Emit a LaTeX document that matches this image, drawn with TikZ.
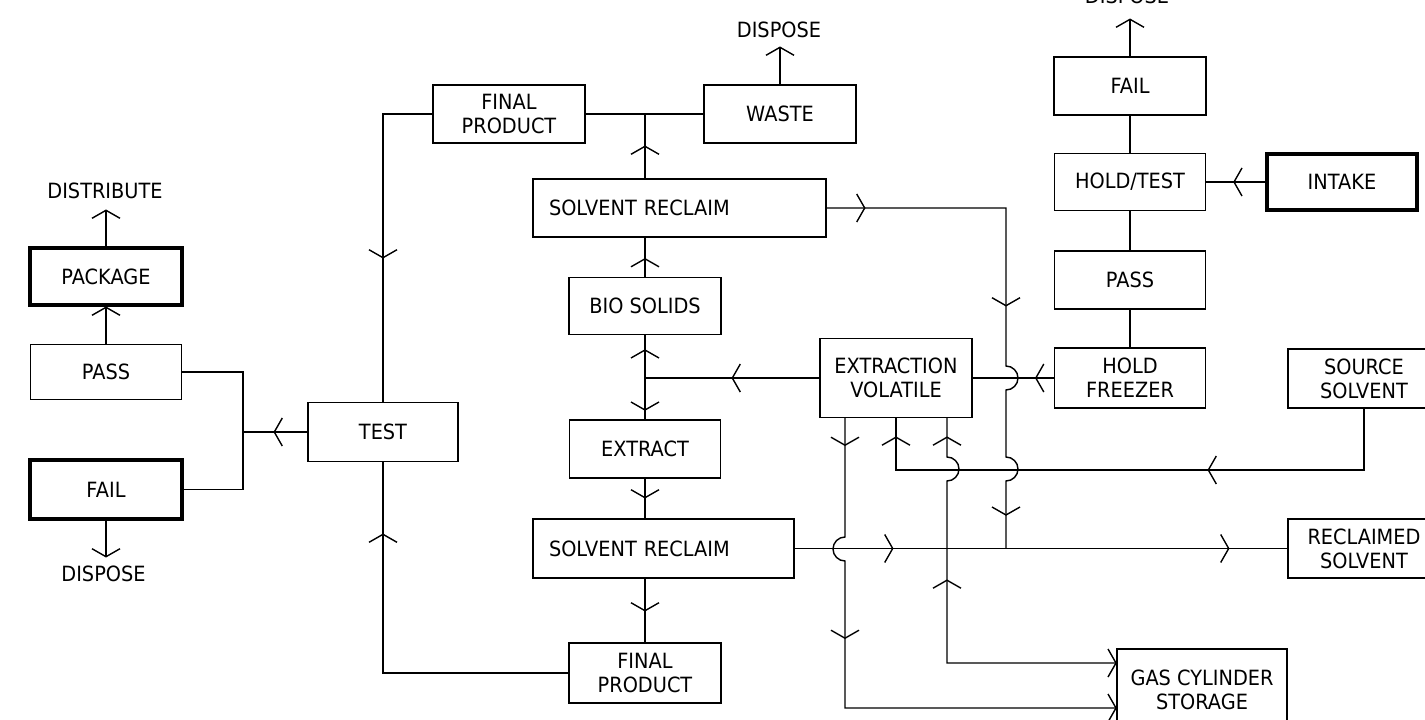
\documentclass[tikz,border=0pt]{standalone}
\usepackage{fontspec}
\setmainfont{DejaVu Sans}[FakeStretch=0.92]
\usetikzlibrary{decorations.markings}
\newcommand\myfs{\fontsize{21}{24}\selectfont}
\tikzset{
  ln/.style={line width=1.4pt},
  bx/.style 2 args={draw, ln, minimum width=#1, minimum height=#2, inner sep=0pt, align=center, font=\myfs},
  tb/.style={line width=4pt},
  txt/.style={inner sep=0pt, font=\myfs},
  fm/.style={postaction={decorate,decoration={markings,mark=at position #1 with {\draw[ln] (-8pt,14pt) -- (0pt,0pt) -- (-8pt,-14pt);}}}},
  rm/.style={postaction={decorate,decoration={markings,mark=at position #1 with {\draw[ln] (8pt,14pt) -- (0pt,0pt) -- (8pt,-14pt);}}}},
}
\begin{document}
\begin{tikzpicture}[x=1pt,y=-1pt]
\useasboundingbox (0,0) rectangle (1425,720);
% left column
\node[txt] (dist) at (105,191) {DISTRIBUTE};
\node[bx={152pt}{57pt}, tb] (pkg) at (106,276.5) {PACKAGE};
\node[bx={151pt}{55pt}] (passL) at (106,372) {PASS};
\node[bx={152pt}{59pt}, tb] (failL) at (106,489.5) {FAIL};
\node[txt] (dispL) at (103.5,573.5) {DISPOSE};
\node[bx={150pt}{59pt}] (test) at (383,432) {TEST};
% middle
\node[bx={152pt}{58pt}] (fp1) at (509,114) {FINAL\\PRODUCT};
\node[bx={152pt}{58pt}] (waste) at (780,114) {WASTE};
\node[txt] (dispM) at (779,30) {DISPOSE};
\node[bx={293pt}{58pt}, text width=261pt, align=left, inner xsep=16pt] (sr1) at (679.5,208) {SOLVENT RECLAIM};
\node[bx={152pt}{57pt}] (bio) at (645,306) {BIO SOLIDS};
\node[bx={151pt}{58pt}] (ext) at (645,449) {EXTRACT};
\node[bx={261pt}{59pt}, text width=229pt, align=left, inner xsep=16pt] (sr2) at (663.5,548.5) {SOLVENT RECLAIM};
\node[bx={152pt}{60pt}] (fp2) at (645,673) {FINAL\\PRODUCT};
\node[bx={152pt}{79pt}] (ev) at (896,378) {EXTRACTION\\VOLATILE};
% right
\node[txt] (dispR) at (1127,-4) {DISPOSE};
\node[bx={152pt}{58pt}] (failR) at (1130,86) {FAIL};
\node[bx={151pt}{57pt}] (ht) at (1130,182) {HOLD/TEST};
\node[bx={150pt}{56pt}, tb] (intake) at (1342,182) {INTAKE};
\node[bx={151pt}{58pt}] (passR) at (1130,280) {PASS};
\node[bx={151pt}{60pt}] (hf) at (1130,378) {HOLD\\FREEZER};
\node[bx={152pt}{59pt}] (ss) at (1364,378.5) {SOURCE\\SOLVENT};
\node[bx={152pt}{59pt}] (rs) at (1364,548.5) {RECLAIMED\\SOLVENT};
\node[bx={170pt}{82pt}] (gas) at (1202,690) {GAS CYLINDER\\STORAGE};
% coordinates
\coordinate (a1) at (106,210);
\coordinate (a2) at (106,557);
\coordinate (a3) at (780,47);
\coordinate (a4) at (1130,19);
\coordinate (jL) at (243,432);
\coordinate (j0) at (645,114);
\coordinate (j1) at (645,378);
\coordinate (c1) at (1006,208);
\coordinate (c2) at (1006,548.5);
\coordinate (v1) at (845,708);
\coordinate (v2) at (896,470);
\coordinate (v3) at (947,663);
% connectors left
\draw[ln, fm=-0.3pt] (pkg.north) -- (a1);
\draw[ln, fm=-0.3pt] (passL.north) -- (pkg.south);
\draw[ln, fm=-0.3pt] (failL.south) -- (a2);
\draw[ln, fm=33pt] (test.west) -- (jL);
\draw[ln] (passL.east) -| (jL) |- (failL.east);
\draw[ln, fm=193pt] (fp1.west) -| (test.north);
\draw[ln, fm=324pt] (fp2.west) -| (test.south);
% middle
\draw[ln] (fp1.east) -- (waste.west);
\draw[ln, fm=32pt] (sr1.north -| j0) -- (j0);
\draw[ln, fm=-0.3pt] (waste.north) -- (a3);
\draw[ln, fm=38pt, fm=277pt, fm=-33.5pt] (sr1.east) -- (c1) -- (1006,366)
  arc[start angle=90, end angle=-90, radius=12pt] -- (1006,457)
  arc[start angle=90, end angle=-90, radius=12pt] -- (c2);
\draw[ln, fm=18pt] (bio.north) -- (bio.north |- sr1.south);
\draw[ln, fm=28pt] (j1) -- (bio.south);
\draw[ln, fm=87pt] (ev.west) -- (j1);
\draw[ln, fm=32pt] (j1) -- (ext.north);
\draw[ln, fm=19pt] (ext.south) -- (ext.south |- sr2.north);
\draw[ln, fm=32pt] (sr2.south -| fp2.north) -- (fp2.north);
\draw[ln, fm=98pt, fm=434pt] (sr2.east) -- (rs.west);
\draw[ln, fm=18pt] (hf.west) -- (ev.east);
% right column
\draw[ln] (hf.north) -- (passR.south);
\draw[ln] (passR.north) -- (ht.south);
\draw[ln] (ht.north) -- (failR.south);
\draw[ln, fm=-0.3pt] (failR.north) -- (a4);
\draw[ln, fm=31pt] (intake.west) -- (ht.east);
\draw[ln, fm=217pt, fm=-19pt] (ss.south) |- (v2) -- (ev.south);
% verticals below extraction volatile
\draw[ln, rm=19pt, rm=175.7pt, fm=-0.3pt] (ev.south -| v3) -- (947,457)
  arc[start angle=90, end angle=-90, radius=12pt] -- (v3) -- (gas.west |- v3);
\draw[ln, fm=27pt, fm=233.7pt, fm=-0.3pt] (ev.south -| v1) -- (845,537)
  arc[start angle=90, end angle=270, radius=12pt] -- (v1) -- (gas.west |- v1);
\end{tikzpicture}
\end{document}
